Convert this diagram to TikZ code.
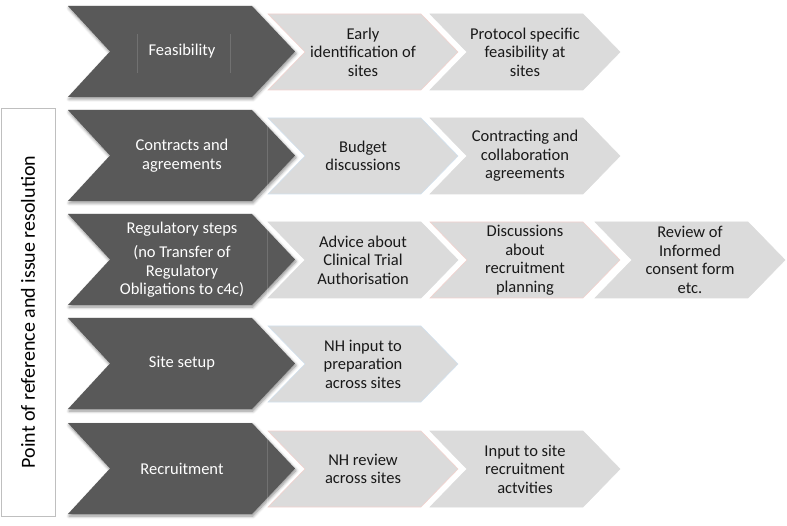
\documentclass[tikz,border=0pt]{standalone}
\usepackage{fontspec}
\setmainfont{Carlito}
\usetikzlibrary{shadows.blur}
\definecolor{darkstep}{HTML}{595959}
\definecolor{lightstep}{HTML}{DBDBDB}
\definecolor{edgepink}{HTML}{F2D2CE}
\definecolor{edgeblue}{HTML}{D2E1EE}
\tikzset{
  mainstep/.style={fill=darkstep,blur shadow={shadow xshift=1pt,shadow yshift=-2pt,shadow blur radius=3pt,shadow blur steps=6,shadow opacity=45}},
  substep/.style={fill=lightstep},
  maintext/.style={text=white,align=center,font=\fontsize{16.5}{18.5}\selectfont},
  subtext/.style={text=black!90,align=center,font=\fontsize{16.5}{18.5}\selectfont},
  ghostline/.style={draw=white,draw opacity=0.15,line width=0.8pt},
}
% dark chevron: #1 = left, #2 = top
\newcommand{\mainchevron}[2]{\path[mainstep] (#1,#2) -- ++(184,0) -- ++(43,45.5) -- ++(-43,45.5) -- ++(-184,0) -- ++(42,-45.5) -- cycle;}
% light chevron: #1 = left, #2 = top, #3 = outline
\newcommand{\subchevron}[3]{\path[substep,draw=#3,line width=0.6pt] (#1,#2) -- ++(153,0) -- ++(37,38) -- ++(-37,38) -- ++(-153,0) -- ++(37,-38) -- cycle;}

\begin{document}
\begin{tikzpicture}[x=1pt,y=-1pt]
\useasboundingbox (0,0) rectangle (787,526);
% side label
\node (poi) [draw=black!25,line width=0.7pt,rotate=90,minimum width=408pt,minimum height=54pt,inner sep=0pt,font=\fontsize{20}{24}\selectfont] at (28,312) {Point of reference and issue resolution};
%
% light chevrons, row by row
\subchevron{268}{14}{edgepink}
\subchevron{430}{14}{lightstep}
\subchevron{268}{118}{edgeblue}
\subchevron{430}{118}{lightstep}
\subchevron{268}{222}{lightstep}
\subchevron{430}{222}{edgepink}
\subchevron{595}{222}{lightstep}
\subchevron{268}{326}{edgeblue}
\subchevron{268}{431}{edgepink}
\subchevron{430}{431}{lightstep}
%
% dark chevrons
\mainchevron{68}{6}
\mainchevron{68}{110}
\mainchevron{68}{214}
\mainchevron{68}{318}
\mainchevron{68}{423}
\draw[ghostline] (137,34) -- (137,73);
\draw[ghostline] (230,34) -- (230,73);
\draw[ghostline] (267,118) -- (267,194);
\draw[ghostline] (267,222) -- (267,298);
\draw[ghostline] (267,431) -- (267,507);
%
\node (feas) [maintext] at (182,51.5) {Feasibility};
\node (contr) [maintext] at (182,155.5) {Contracts and\\agreements};
\node (regul) [maintext] at (182,259.5) {Regulatory steps\\[6pt](no Transfer of\\Regulatory\\Obligations to c4c)};
\node (setup) [maintext] at (182,363.5) {Site setup};
\node (recr) [maintext] at (182,468.5) {Recruitment};
%
\node (early) [subtext] at (363,52) {Early\\identification of\\sites};
\node (proto) [subtext] at (525,52) {Protocol specific\\feasibility at\\sites};
\node (budget) [subtext] at (363,156) {Budget\\discussions};
\node (collab) [subtext] at (525,156) {Contracting and\\collaboration\\agreements};
\node (advice) [subtext] at (363,260) {Advice about\\Clinical Trial\\Authorisation};
\node (plan) [subtext] at (525,260) {Discussions\\about\\recruitment\\planning};
\node (icf) [subtext] at (690,260) {Review of\\Informed\\consent form\\etc.};
\node (prep) [subtext] at (363,364) {NH input to\\preparation\\across sites};
\node (review) [subtext] at (363,469) {NH review\\across sites};
\node (input) [subtext] at (525,469) {Input to site\\recruitment\\actvities};
\end{tikzpicture}
\end{document}
